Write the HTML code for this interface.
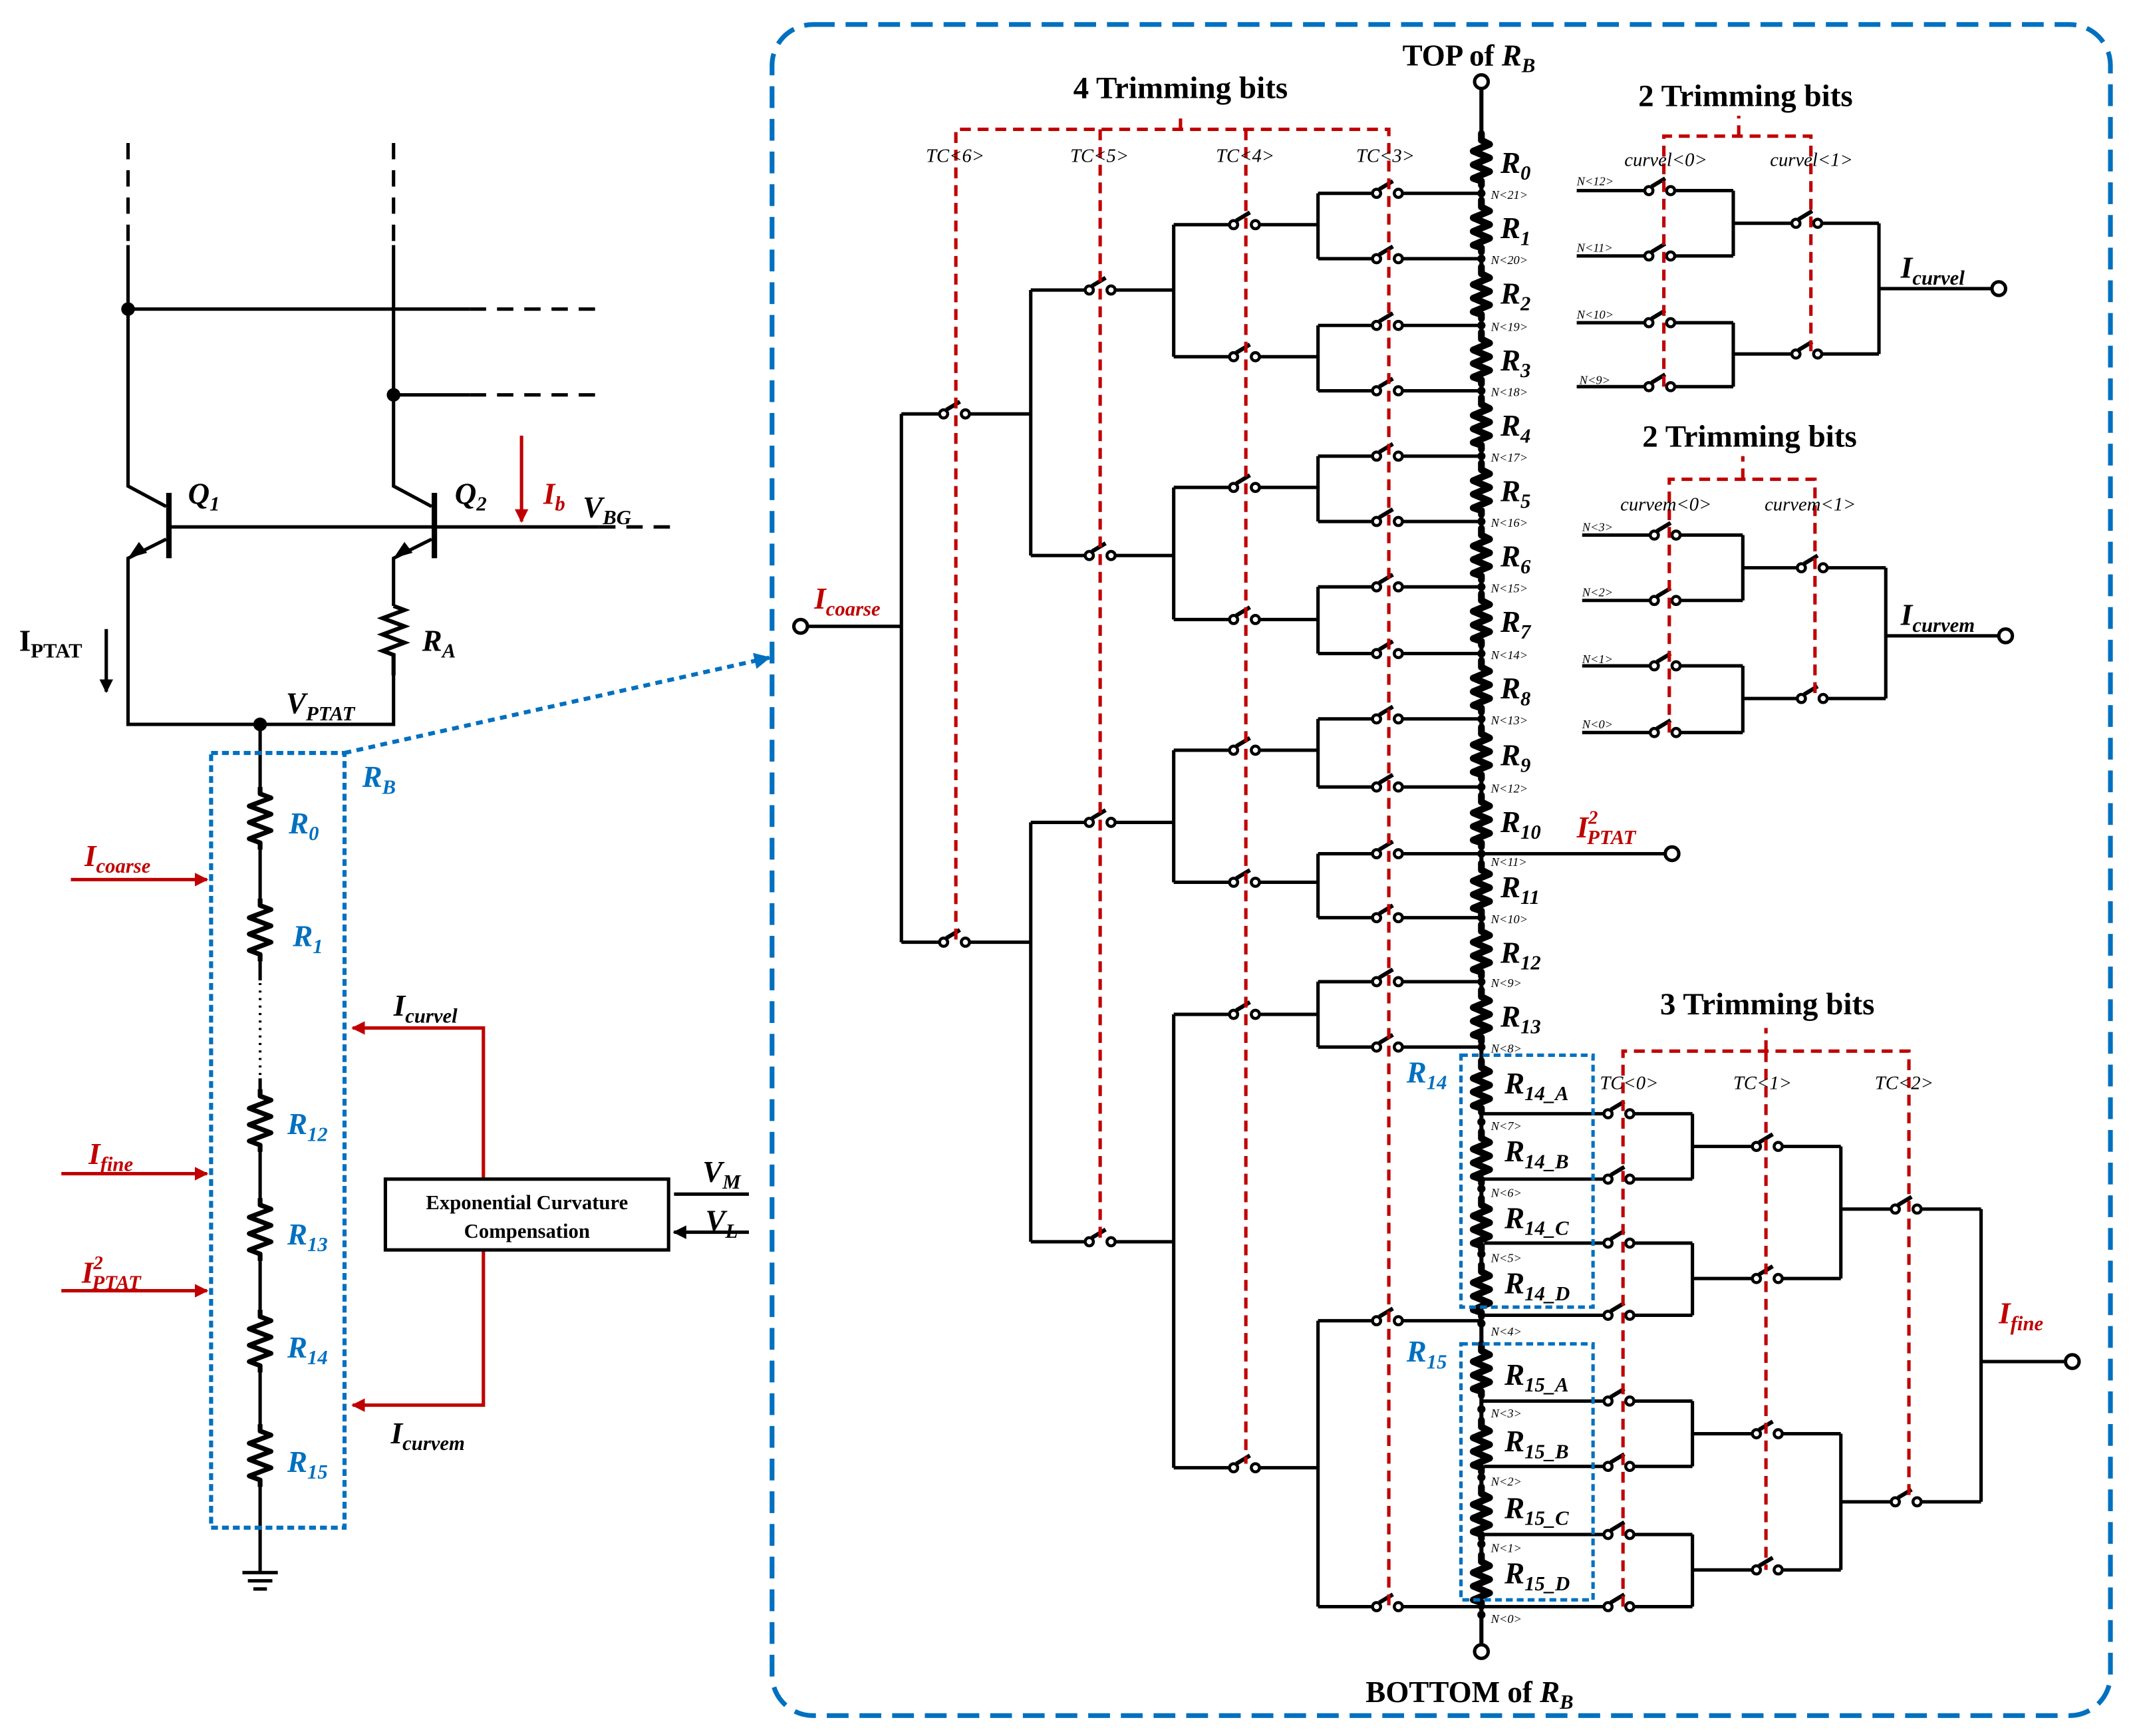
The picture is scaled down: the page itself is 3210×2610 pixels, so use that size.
<!DOCTYPE html>
<html><head><meta charset="utf-8"><style>
html,body{margin:0;padding:0;background:#fff}
svg{display:block}
text{font-family:"Liberation Serif",serif}
.l{font-weight:bold;font-style:italic}
</style></head><body>
<svg width="3210" height="2610" viewBox="0 0 1568 1275" xmlns="http://www.w3.org/2000/svg">
<defs>
<g id="sw"><circle cx="3" cy="0" r="3" fill="#fff" stroke="#000" stroke-width="2.2"/><circle cx="19" cy="0" r="3" fill="#fff" stroke="#000" stroke-width="2.2"/><line x1="5" y1="-3" x2="15" y2="-9" stroke="#000" stroke-width="3"/></g>
<g id="res"><rect x="-2" y="3" width="4" height="32" fill="#fff"/><path d="M0,0 v5 l6,3 l-12,5 l12,5 l-12,5 l12,5 l-12,5 l6,2 v3" fill="none" stroke="#000" stroke-width="5" stroke-linejoin="round" stroke-linecap="round"/></g>
<g id="resL"><rect x="-2" y="3" width="4" height="40" fill="#fff"/><path d="M0,0 v5 l8,3 l-16,6 l16,6 l-16,6 l16,6 l-16,6 l8,3 v5" fill="none" stroke="#000" stroke-width="3.5" stroke-linejoin="round"/></g>
<marker id="ar" markerWidth="10" markerHeight="10" refX="9" refY="5" orient="auto" markerUnits="userSpaceOnUse"><path d="M0,0 L10,5 L0,10 z" fill="#c00000"/></marker>
<marker id="ak" markerWidth="10" markerHeight="10" refX="9" refY="5" orient="auto" markerUnits="userSpaceOnUse"><path d="M0,0 L10,5 L0,10 z" fill="#000"/></marker>
<marker id="ab" markerWidth="12" markerHeight="12" refX="11" refY="6" orient="auto" markerUnits="userSpaceOnUse"><path d="M0,0 L12,6 L0,12 z" fill="#0070c0"/></marker>
</defs>

<!-- LEFT CIRCUIT -->
<g stroke="#000" stroke-width="2.5" fill="none">
<path d="M94,105 V180 M289,105 V180" stroke-dasharray="12,8"/>
<path d="M94,180 V357 L122,372 M289,180 V357 L317,372"/>
<path d="M94,227 H345 M289,290 H345"/>
<path d="M345,227 H440 M345,290 H440 M440,387 H492" stroke-dasharray="12,8"/>
<path d="M124,362 V410 M319,362 V410" stroke-width="4"/>
<path d="M124,387 H440"/>
<path d="M122,396 L94,410 V532 H289 V495 M317,396 L289,410 V445"/>
<path d="M289,445 l8,3 l-16,6 l16,6 l-16,6 l16,6 l-16,6 l8,3 v15" stroke-width="3"/>
<path d="M191,532 V1155"/>
<path d="M178,1155 H204 M182,1161 H200 M186,1167 H196"/>
<path d="M78,462 V508" marker-end="url(#ak)"/>
</g>
<path d="M94,410 l14,-4 l-6,-8 z M289,410 l14,-4 l-6,-8 z" fill="#000"/>
<circle cx="94" cy="227" r="5"/><circle cx="289" cy="290" r="5"/><circle cx="191" cy="532" r="5"/>
<use href="#resL" x="191" y="578"/><use href="#resL" x="191" y="660"/><use href="#resL" x="191" y="800"/><use href="#resL" x="191" y="880"/><use href="#resL" x="191" y="962"/><use href="#resL" x="191" y="1046"/>
<rect x="185" y="720" width="12" height="72" fill="#fff"/>
<path d="M191,722 V790" stroke="#000" stroke-width="2" stroke-dasharray="1.5,4"/>
<rect x="155" y="553" width="98" height="569" fill="none" stroke="#0070c0" stroke-width="3" stroke-dasharray="5,3"/>
<path d="M253,553 L565,483" stroke="#0070c0" stroke-width="3" stroke-dasharray="5,4" marker-end="url(#ab)"/>
<g stroke="#c00000" stroke-width="2.5" fill="none">
<path d="M52,646 H152" marker-end="url(#ar)"/>
<path d="M45,862 H152" marker-end="url(#ar)"/>
<path d="M45,948 H152" marker-end="url(#ar)"/>
<path d="M355,866 V755 H259" marker-end="url(#ar)"/>
<path d="M355,918 V1032 H259" marker-end="url(#ar)"/>
<path d="M383,320 V383" marker-end="url(#ar)"/>
</g>
<path d="M550,877 H495 M550,905 H495" stroke="#000" stroke-width="2.5" marker-end="url(#ak)"/>
<rect x="283" y="866" width="208" height="52" fill="#fff" stroke="#000" stroke-width="2.5"/>
<text x="387" y="888" font-size="15" font-weight="bold" text-anchor="middle">Exponential Curvature</text>
<text x="387" y="909" font-size="15" font-weight="bold" text-anchor="middle">Compensation</text>
<g class="l" font-size="22">
<text x="138" y="370">Q<tspan font-size="15" dy="5">1</tspan></text>
<text x="334" y="370">Q<tspan font-size="15" dy="5">2</tspan></text>
<text x="310" y="478">R<tspan font-size="15" dy="5">A</tspan></text>
<text x="14" y="478" font-style="normal">I<tspan font-size="15" dy="5">PTAT</tspan></text>
<text x="210" y="524">V<tspan font-size="15" dy="5">PTAT</tspan></text>
<text x="428" y="380">V<tspan font-size="15" dy="5">BG</tspan></text>
<text x="399" y="370" fill="#c00000">I<tspan font-size="15" dy="5">b</tspan></text>
<text x="266" y="578" fill="#0070c0">R<tspan font-size="15" dy="5">B</tspan></text>
<g fill="#0070c0">
<text x="212" y="612">R<tspan font-size="15" dy="5">0</tspan></text>
<text x="215" y="695">R<tspan font-size="15" dy="5">1</tspan></text>
<text x="211" y="833">R<tspan font-size="15" dy="5">12</tspan></text>
<text x="211" y="914">R<tspan font-size="15" dy="5">13</tspan></text>
<text x="211" y="997">R<tspan font-size="15" dy="5">14</tspan></text>
<text x="211" y="1081">R<tspan font-size="15" dy="5">15</tspan></text>
</g>
<g fill="#c00000">
<text x="62" y="636">I<tspan font-size="15" dy="5">coarse</tspan></text>
<text x="65" y="855">I<tspan font-size="15" dy="5">fine</tspan></text>
<text x="60" y="942">I<tspan font-size="14" dy="-10">2</tspan><tspan font-size="15" dx="-8" dy="15">PTAT</tspan></text>
</g>
<text x="289" y="746">I<tspan font-size="15" dy="5">curvel</tspan></text>
<text x="287" y="1060">I<tspan font-size="15" dy="5">curvem</tspan></text>
<text x="516" y="868">V<tspan font-size="15" dy="5">M</tspan></text>
<text x="518" y="904">V<tspan font-size="15" dy="5">L</tspan></text>
</g>

<!-- RIGHT BOX -->
<rect x="567" y="18" width="983" height="1242" rx="30" fill="none" stroke="#0070c0" stroke-width="3.5" stroke-dasharray="16,8"/>
<text x="1030" y="48" font-size="22" font-weight="bold">TOP of <tspan font-style="italic">R</tspan><tspan font-size="15" dy="5" font-style="italic">B</tspan></text>
<text x="1003" y="1250" font-size="22" font-weight="bold">BOTTOM of <tspan font-style="italic">R</tspan><tspan font-size="15" dy="5" font-style="italic">B</tspan></text>

<g stroke="#000" stroke-width="2.5" fill="none">
<path d="M1088,64 V1209" stroke-width="3"/>
<path d="M968,142H1008M1030,142H1088 M968,190H1008M1030,190H1088 M968,239H1008M1030,239H1088 M968,287H1008M1030,287H1088 M968,335H1008M1030,335H1088 M968,383H1008M1030,383H1088 M968,431H1008M1030,431H1088 M968,480H1008M1030,480H1088 M968,528H1008M1030,528H1088 M968,578H1008M1030,578H1088 M968,627H1008M1030,627H1088 M968,674H1008M1030,674H1088 M968,721H1008M1030,721H1088 M968,769H1008M1030,769H1088 M968,970H1008M1030,970H1088 M968,1180H1008M1030,1180H1088"/>
<path d="M968,142V190 M968,239V287 M968,335V383 M968,431V480 M968,528V578 M968,627V674 M968,721V769 M968,970V1180"/>
<path d="M862,165H903M925,165H968 M862,262H903M925,262H968 M862,358H903M925,358H968 M862,455H903M925,455H968 M862,551H903M925,551H968 M862,648H903M925,648H968 M862,745H903M925,745H968 M862,1078H903M925,1078H968"/>
<path d="M862,165V262 M862,358V455 M862,551V648 M862,745V1078"/>
<path d="M757,213H797M819,213H862 M757,408H797M819,408H862 M757,604H797M819,604H862 M757,912H797M819,912H862"/>
<path d="M757,213V408 M757,604V912"/>
<path d="M662,304H690M712,304H757 M662,692H690M712,692H757 M662,304V692 M593,460H662"/>
<path d="M1088,627H1223"/>
<path d="M1088,818H1178M1200,818H1243 M1088,866H1178M1200,866H1243 M1088,913H1178M1200,913H1243 M1088,966H1178M1200,966H1243 M1088,1029H1178M1200,1029H1243 M1088,1077H1178M1200,1077H1243 M1088,1127H1178M1200,1127H1243 M1088,1180H1178M1200,1180H1243"/>
<path d="M1243,818V866 M1243,913V966 M1243,1029V1077 M1243,1127V1180"/>
<path d="M1243,842H1287M1309,842H1352 M1243,939H1287M1309,939H1352 M1243,1053H1287M1309,1053H1352 M1243,1153H1287M1309,1153H1352 M1352,842V939 M1352,1053V1153"/>
<path d="M1352,888H1389M1411,888H1455 M1352,1103H1389M1411,1103H1455 M1455,888V1103 M1455,1000H1517"/>
<path d="M1158,140H1208M1230,140H1273 M1158,188H1208M1230,188H1273 M1158,237H1208M1230,237H1273 M1158,284H1208M1230,284H1273 M1273,140V188 M1273,237V284"/>
<path d="M1273,164H1316M1338,164H1380 M1273,260H1316M1338,260H1380 M1380,164V260 M1380,212H1463"/>
<path d="M1162,393H1212M1234,393H1280 M1162,441H1212M1234,441H1280 M1162,489H1212M1234,489H1280 M1162,538H1212M1234,538H1280 M1280,393V441 M1280,489V538"/>
<path d="M1280,417H1320M1342,417H1385 M1280,513H1320M1342,513H1385 M1385,417V513 M1385,467H1468"/>
</g>
<g stroke="#000" stroke-width="2.5" fill="#fff">
<circle cx="1088" cy="60" r="5"/><circle cx="1088" cy="1213" r="5"/>
<circle cx="588" cy="460" r="5"/><circle cx="1228" cy="627" r="5"/>
<circle cx="1522" cy="1000" r="5"/><circle cx="1468" cy="212" r="5"/><circle cx="1473" cy="467" r="5"/>
</g>
<g>
<use href="#res" x="1088" y="98"/><use href="#res" x="1088" y="147"/><use href="#res" x="1088" y="196"/><use href="#res" x="1088" y="244"/><use href="#res" x="1088" y="292"/><use href="#res" x="1088" y="340"/><use href="#res" x="1088" y="388"/><use href="#res" x="1088" y="436"/><use href="#res" x="1088" y="485"/><use href="#res" x="1088" y="534"/><use href="#res" x="1088" y="584"/><use href="#res" x="1088" y="634"/><use href="#res" x="1088" y="679"/><use href="#res" x="1088" y="727"/><use href="#res" x="1088" y="779"/><use href="#res" x="1088" y="831"/><use href="#res" x="1088" y="880"/><use href="#res" x="1088" y="929"/><use href="#res" x="1088" y="987"/><use href="#res" x="1088" y="1043"/><use href="#res" x="1088" y="1092"/><use href="#res" x="1088" y="1142"/>
</g>
<g fill="#000">
<circle cx="1088" cy="142" r="3"/><circle cx="1088" cy="190" r="3"/><circle cx="1088" cy="239" r="3"/><circle cx="1088" cy="287" r="3"/><circle cx="1088" cy="335" r="3"/><circle cx="1088" cy="383" r="3"/><circle cx="1088" cy="431" r="3"/><circle cx="1088" cy="480" r="3"/><circle cx="1088" cy="528" r="3"/><circle cx="1088" cy="578" r="3"/><circle cx="1088" cy="627" r="3"/><circle cx="1088" cy="674" r="3"/><circle cx="1088" cy="721" r="3"/><circle cx="1088" cy="769" r="3"/><circle cx="1088" cy="824" r="3"/><circle cx="1088" cy="873" r="3"/><circle cx="1088" cy="921" r="3"/><circle cx="1088" cy="972" r="3"/><circle cx="1088" cy="1035" r="3"/><circle cx="1088" cy="1085" r="3"/><circle cx="1088" cy="1134" r="3"/><circle cx="1088" cy="1186" r="3"/>
</g>
<g>
<use href="#sw" x="1008" y="142"/><use href="#sw" x="1008" y="190"/><use href="#sw" x="1008" y="239"/><use href="#sw" x="1008" y="287"/><use href="#sw" x="1008" y="335"/><use href="#sw" x="1008" y="383"/><use href="#sw" x="1008" y="431"/><use href="#sw" x="1008" y="480"/><use href="#sw" x="1008" y="528"/><use href="#sw" x="1008" y="578"/><use href="#sw" x="1008" y="627"/><use href="#sw" x="1008" y="674"/><use href="#sw" x="1008" y="721"/><use href="#sw" x="1008" y="769"/><use href="#sw" x="1008" y="970"/><use href="#sw" x="1008" y="1180"/>
<use href="#sw" x="903" y="165"/><use href="#sw" x="903" y="262"/><use href="#sw" x="903" y="358"/><use href="#sw" x="903" y="455"/><use href="#sw" x="903" y="551"/><use href="#sw" x="903" y="648"/><use href="#sw" x="903" y="745"/><use href="#sw" x="903" y="1078"/>
<use href="#sw" x="797" y="213"/><use href="#sw" x="797" y="408"/><use href="#sw" x="797" y="604"/><use href="#sw" x="797" y="912"/>
<use href="#sw" x="690" y="304"/><use href="#sw" x="690" y="692"/>
<use href="#sw" x="1178" y="818"/><use href="#sw" x="1178" y="866"/><use href="#sw" x="1178" y="913"/><use href="#sw" x="1178" y="966"/><use href="#sw" x="1178" y="1029"/><use href="#sw" x="1178" y="1077"/><use href="#sw" x="1178" y="1127"/><use href="#sw" x="1178" y="1180"/>
<use href="#sw" x="1287" y="842"/><use href="#sw" x="1287" y="939"/><use href="#sw" x="1287" y="1053"/><use href="#sw" x="1287" y="1153"/>
<use href="#sw" x="1389" y="888"/><use href="#sw" x="1389" y="1103"/>
<use href="#sw" x="1208" y="140"/><use href="#sw" x="1208" y="188"/><use href="#sw" x="1208" y="237"/><use href="#sw" x="1208" y="284"/>
<use href="#sw" x="1316" y="164"/><use href="#sw" x="1316" y="260"/>
<use href="#sw" x="1212" y="393"/><use href="#sw" x="1212" y="441"/><use href="#sw" x="1212" y="489"/><use href="#sw" x="1212" y="538"/>
<use href="#sw" x="1320" y="417"/><use href="#sw" x="1320" y="513"/>
</g>
<g stroke="#c00000" stroke-width="2.5" fill="none" stroke-dasharray="8,5">
<path d="M702,690 V95 H1020 V1180 M808,95 V910 M915,95 V1075 M867,95 V82"/>
<path d="M1192,1180 V772 H1402 V1103 M1297,772 V1153 M1297,772 V755"/>
<path d="M1222,284 V100 H1330 V260 M1277,100 V85"/>
<path d="M1226,538 V352 H1333 V513 M1280,352 V335"/>
</g>
<rect x="1073" y="775" width="97" height="185" fill="none" stroke="#0070c0" stroke-width="2.5" stroke-dasharray="5,3"/>
<rect x="1073" y="987" width="97" height="188" fill="none" stroke="#0070c0" stroke-width="2.5" stroke-dasharray="5,3"/>

<g font-size="23" font-weight="bold">
<text x="867" y="72" text-anchor="middle">4 Trimming bits</text>
<text x="1282" y="78" text-anchor="middle">2 Trimming bits</text>
<text x="1285" y="328" text-anchor="middle">2 Trimming bits</text>
<text x="1298" y="745" text-anchor="middle">3 Trimming bits</text>
</g>
<g font-size="14" font-style="italic">
<text x="680" y="119">TC&lt;6&gt;</text><text x="786" y="119">TC&lt;5&gt;</text><text x="893" y="119">TC&lt;4&gt;</text><text x="996" y="119">TC&lt;3&gt;</text>
<text x="1175" y="800">TC&lt;0&gt;</text><text x="1273" y="800">TC&lt;1&gt;</text><text x="1377" y="800">TC&lt;2&gt;</text>
<text x="1193" y="122">curvel&lt;0&gt;</text><text x="1300" y="122">curvel&lt;1&gt;</text>
<text x="1190" y="375">curvem&lt;0&gt;</text><text x="1296" y="375">curvem&lt;1&gt;</text>
</g>
<g font-size="9" font-style="italic">
<text x="1095" y="146">N&lt;21&gt;</text><text x="1095" y="194">N&lt;20&gt;</text><text x="1095" y="243">N&lt;19&gt;</text><text x="1095" y="291">N&lt;18&gt;</text><text x="1095" y="339">N&lt;17&gt;</text><text x="1095" y="387">N&lt;16&gt;</text><text x="1095" y="435">N&lt;15&gt;</text><text x="1095" y="484">N&lt;14&gt;</text><text x="1095" y="532">N&lt;13&gt;</text><text x="1095" y="582">N&lt;12&gt;</text><text x="1095" y="636">N&lt;11&gt;</text><text x="1095" y="678">N&lt;10&gt;</text><text x="1095" y="725">N&lt;9&gt;</text><text x="1095" y="773">N&lt;8&gt;</text>
<text x="1095" y="830">N&lt;7&gt;</text><text x="1095" y="879">N&lt;6&gt;</text><text x="1095" y="927">N&lt;5&gt;</text><text x="1095" y="981">N&lt;4&gt;</text><text x="1095" y="1041">N&lt;3&gt;</text><text x="1095" y="1091">N&lt;2&gt;</text><text x="1095" y="1140">N&lt;1&gt;</text><text x="1095" y="1192">N&lt;0&gt;</text>
<text x="1158" y="136">N&lt;12&gt;</text><text x="1158" y="185">N&lt;11&gt;</text><text x="1158" y="234">N&lt;10&gt;</text><text x="1160" y="282">N&lt;9&gt;</text>
<text x="1162" y="390">N&lt;3&gt;</text><text x="1162" y="438">N&lt;2&gt;</text><text x="1162" y="487">N&lt;1&gt;</text><text x="1162" y="535">N&lt;0&gt;</text>
</g>
<g class="l" font-size="22">
<text x="1102" y="127">R<tspan font-size="15" dy="5">0</tspan></text>
<text x="1102" y="175">R<tspan font-size="15" dy="5">1</tspan></text>
<text x="1102" y="223">R<tspan font-size="15" dy="5">2</tspan></text>
<text x="1102" y="272">R<tspan font-size="15" dy="5">3</tspan></text>
<text x="1102" y="320">R<tspan font-size="15" dy="5">4</tspan></text>
<text x="1102" y="368">R<tspan font-size="15" dy="5">5</tspan></text>
<text x="1102" y="416">R<tspan font-size="15" dy="5">6</tspan></text>
<text x="1102" y="464">R<tspan font-size="15" dy="5">7</tspan></text>
<text x="1102" y="513">R<tspan font-size="15" dy="5">8</tspan></text>
<text x="1102" y="562">R<tspan font-size="15" dy="5">9</tspan></text>
<text x="1102" y="611">R<tspan font-size="15" dy="5">10</tspan></text>
<text x="1102" y="659">R<tspan font-size="15" dy="5">11</tspan></text>
<text x="1102" y="707">R<tspan font-size="15" dy="5">12</tspan></text>
<text x="1102" y="754">R<tspan font-size="15" dy="5">13</tspan></text>
<text x="1105" y="803">R<tspan font-size="15" dy="5">14_A</tspan></text>
<text x="1105" y="853">R<tspan font-size="15" dy="5">14_B</tspan></text>
<text x="1105" y="902">R<tspan font-size="15" dy="5">14_C</tspan></text>
<text x="1105" y="950">R<tspan font-size="15" dy="5">14_D</tspan></text>
<text x="1105" y="1017">R<tspan font-size="15" dy="5">15_A</tspan></text>
<text x="1105" y="1066">R<tspan font-size="15" dy="5">15_B</tspan></text>
<text x="1105" y="1115">R<tspan font-size="15" dy="5">15_C</tspan></text>
<text x="1105" y="1163">R<tspan font-size="15" dy="5">15_D</tspan></text>
<text x="1033" y="795" fill="#0070c0">R<tspan font-size="15" dy="5">14</tspan></text>
<text x="1033" y="1000" fill="#0070c0">R<tspan font-size="15" dy="5">15</tspan></text>
<text x="598" y="447" fill="#c00000">I<tspan font-size="15" dy="5">coarse</tspan></text>
<text x="1468" y="972" fill="#c00000">I<tspan font-size="15" dy="5">fine</tspan></text>
<text x="1158" y="615" fill="#c00000">I<tspan font-size="14" dy="-10">2</tspan><tspan font-size="15" dx="-8" dy="15">PTAT</tspan></text>
<text x="1396" y="204">I<tspan font-size="15" dy="5">curvel</tspan></text>
<text x="1396" y="459">I<tspan font-size="15" dy="5">curvem</tspan></text>
</g>
</svg>
</body></html>
